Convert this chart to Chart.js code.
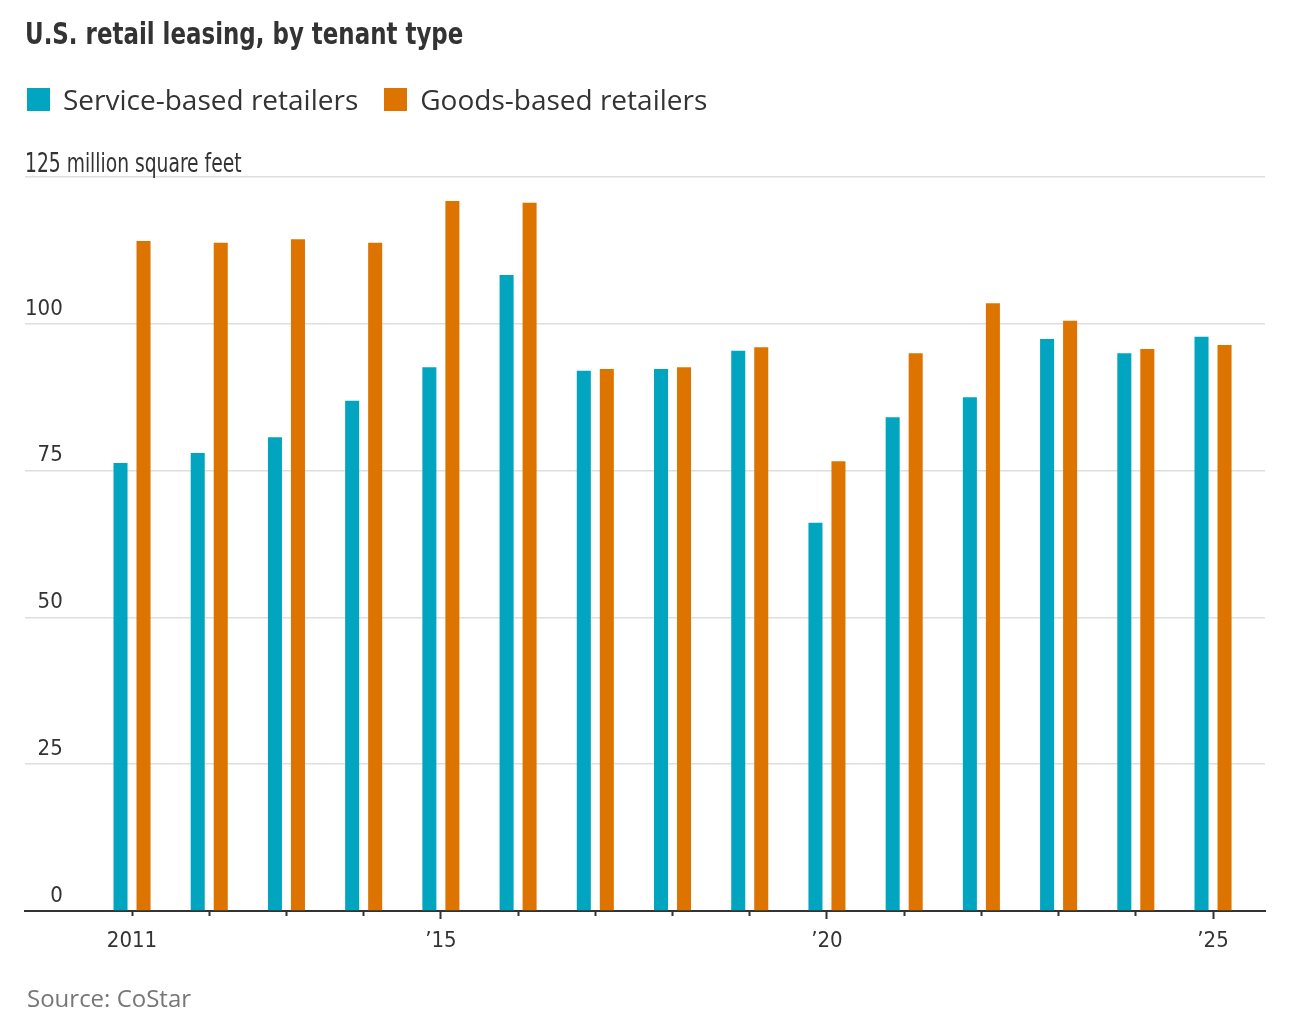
<!DOCTYPE html>
<html lang="en">
<head>
  <meta charset="UTF-8">
  <title>U.S. retail leasing, by tenant type</title>
  <script src="https://cdn.jsdelivr.net/npm/chart.js"></script>
  <style>
    html, body {
      margin: 0;
      padding: 0;
      background: #ffffff;
      overflow: hidden;
    }
    .page {
      position: relative;
      width: 1293px;
      height: 1016px;
      color: #333333;
    }
    /* Header text (condensed look via horizontal squeeze) */
    .title {
      position: absolute;
      left: 25px;
      top: 15px;
      font-family: "DejaVu Sans Condensed", sans-serif;
      font-weight: bold;
      font-size: 30px;
      line-height: 38px;
      white-space: nowrap;
      transform: scaleX(0.85);
      transform-origin: left center;
      color: #333333;
    }
    .legend {
      position: absolute;
      left: 27px;
      top: 79px;
      height: 40px;
      display: flex;
      align-items: center;
      font-family: "Open Sans", sans-serif;
      font-size: 28px;
    }
    .legend-item {
      display: flex;
      align-items: center;
      margin-right: 26px;
    }
    .legend-swatch {
      width: 23px;
      height: 23px;
      margin-right: 13px;
    }
    .unit {
      position: absolute;
      left: 25px;
      top: 147px;
      font-family: "DejaVu Sans Condensed", sans-serif;
      font-size: 26px;
      line-height: 32px;
      white-space: nowrap;
      transform: scaleX(0.80);
      transform-origin: left center;
    }
    .source {
      position: absolute;
      left: 27px;
      top: 983px;
      font-family: "Open Sans", sans-serif;
      font-size: 24px;
      line-height: 30px;
      color: #777777;
    }
    .chart-box {
      position: absolute;
      left: 0;
      top: 0;
      width: 1293px;
      height: 1016px;
    }
  </style>
</head>
<body>
  <div class="page">
    <div class="chart-box"><canvas id="leasingChart"></canvas></div>
    <div class="title">U.S. retail leasing, by tenant type</div>
    <div class="legend" id="legend"></div>
    <div class="unit">125 million square feet</div>
    <div class="source">Source: CoStar</div>
  </div>

  <script>
    // Data (million square feet)
    const years = [2011, 2012, 2013, 2014, 2015, 2016, 2017, 2018, 2019, 2020, 2021, 2022, 2023, 2024, 2025];
    const serviceBased = [76.3, 78.0, 80.7, 86.9, 92.6, 108.3, 92.0, 92.3, 95.4, 66.1, 84.1, 87.5, 97.4, 95.0, 97.8];
    const goodsBased = [114.1, 113.8, 114.4, 113.8, 120.9, 120.6, 92.3, 92.6, 96.0, 76.6, 95.0, 103.5, 100.5, 95.7, 96.4];
    const xTickLabels = ['2011', '', '', '', '\u201915', '', '', '', '', '\u201920', '', '', '', '', '\u201925'];
    const majorYears = [2015, 2020, 2025];
    const yTicks = [0, 25, 50, 75, 100, 125];

    const seriesNames = ['Service-based retailers', 'Goods-based retailers'];
    const seriesColors = ['#02a5c0', '#de7400'];

    // Build the html legend
    const legendEl = document.getElementById('legend');
    seriesNames.forEach(function(name, i) {
      const item = document.createElement('div');
      item.className = 'legend-item';
      const sw = document.createElement('span');
      sw.className = 'legend-swatch';
      sw.style.background = seriesColors[i];
      const txt = document.createElement('span');
      txt.textContent = name;
      item.appendChild(sw);
      item.appendChild(txt);
      legendEl.appendChild(item);
    });

    const narrowFont = '"DejaVu Sans Condensed", sans-serif';

    function toPoints(values) {
      return years.map(function(yr, i) { return { x: yr, y: values[i] }; });
    }

    new Chart(document.getElementById('leasingChart').getContext('2d'), {
      type: 'bar',
      data: {
        datasets: [
          {
            label: seriesNames[0],
            data: toPoints(serviceBased),
            backgroundColor: seriesColors[0],
            categoryPercentage: 0.596,
            barPercentage: 0.61
          },
          {
            label: seriesNames[1],
            data: toPoints(goodsBased),
            backgroundColor: seriesColors[1],
            categoryPercentage: 0.596,
            barPercentage: 0.61
          }
        ]
      },
      options: {
        responsive: true,
        maintainAspectRatio: false,
        animation: false,
        layout: {
          padding: { top: 177, left: 25, right: 28, bottom: 45 }
        },
        plugins: {
          legend: { display: false },
          tooltip: { enabled: false },
          title: { display: false }
        },
        scales: {
          x: {
            type: 'linear',
            min: 2009.614,
            max: 2025.673,
            offset: false,
            afterBuildTicks: function(scale) {
              scale.ticks = years.map(function(v) { return { value: v }; });
            },
            afterFit: function(scale) {
              scale.height = 60;
            },
            border: { display: true, color: '#333333', width: 2 },
            grid: {
              display: true,
              offset: false,
              drawOnChartArea: false,
              drawTicks: true,
              tickLength: 8,
              tickWidth: 2,
              tickColor: '#333333',
              tickBorderDash: function(ctx) {
                return majorYears.indexOf(ctx.tick && ctx.tick.value) >= 0 ? [] : [4, 40];
              }
            },
            ticks: {
              autoSkip: false,
              maxRotation: 0,
              padding: 9,
              color: '#333333',
              font: { family: narrowFont, size: 22 },
              callback: function(value) {
                const i = years.indexOf(value);
                return i >= 0 ? xTickLabels[i] : '';
              }
            }
          },
          y: {
            min: 0,
            max: 125,
            afterBuildTicks: function(scale) {
              scale.ticks = yTicks.map(function(v) { return { value: v }; });
            },
            border: { display: false },
            grid: {
              drawTicks: false,
              lineWidth: 1.5,
              color: function(ctx) {
                return ctx.tick && ctx.tick.value === 0 ? 'rgba(0,0,0,0)' : '#dedede';
              }
            },
            ticks: {
              mirror: true,
              crossAlign: 'far',
              padding: 0,
              labelOffset: -15,
              color: '#333333',
              font: { family: narrowFont, size: 22 },
              callback: function(value) {
                return value === 125 ? '' : String(value);
              }
            }
          }
        }
      }
    });
  </script>
</body>
</html>
